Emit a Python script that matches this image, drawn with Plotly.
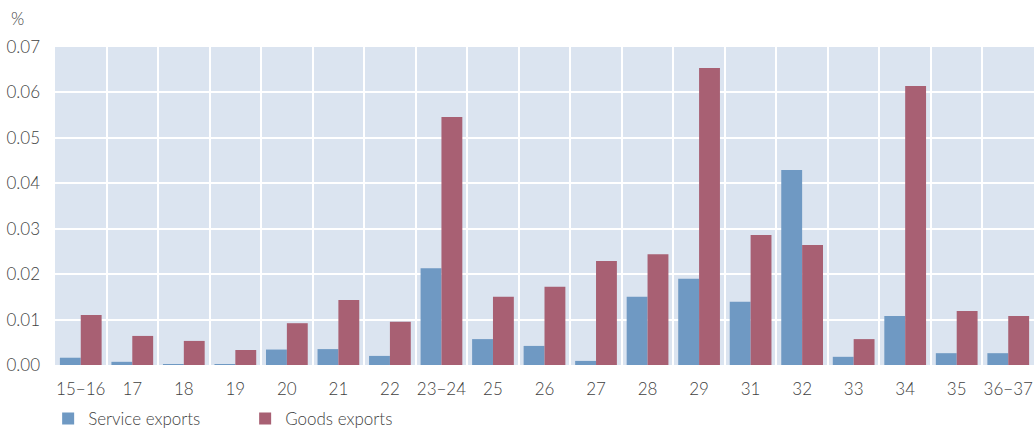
import plotly.graph_objects as go

# Industry groups along the horizontal axis
categories = ["15\u221216", "17", "18", "19", "20", "21", "22", "23\u221224", "25", "26",
              "27", "28", "29", "31", "32", "33", "34", "35", "36\u221237"]

# Share values (%) per industry
service_exports = [0.0016, 0.0007, 0.0002, 0.0002, 0.0034, 0.0035, 0.0020, 0.0213, 0.0057, 0.0042,
                   0.0009, 0.0150, 0.0190, 0.0139, 0.0429, 0.0018, 0.0108, 0.0026, 0.0026]
goods_exports = [0.0110, 0.0064, 0.0053, 0.0033, 0.0092, 0.0143, 0.0095, 0.0546, 0.0150, 0.0172,
                 0.0229, 0.0244, 0.0654, 0.0286, 0.0264, 0.0057, 0.0614, 0.0119, 0.0108]

y_ticks = [0.00, 0.01, 0.02, 0.03, 0.04, 0.05, 0.06, 0.07]

BLUE = "#6f99c3"
RED = "#a86073"
FONT = "Lato"
TEXT = "#3f3f3f"
WEIGHT = 300

fig = go.Figure()
fig.add_trace(go.Bar(x=categories, y=service_exports, name="Service exports",
                     marker=dict(color=BLUE, line=dict(width=0))))
fig.add_trace(go.Bar(x=categories, y=goods_exports, name="Goods exports",
                     marker=dict(color=RED, line=dict(width=0))))

fig.update_layout(
    width=1034, height=430,
    margin=dict(l=55, r=0, t=47, b=65, autoexpand=False),
    paper_bgcolor="white",
    plot_bgcolor="#dbe4f0",
    barmode="group",
    bargap=0.19,
    bargroupgap=0,
    font=dict(family=FONT, size=17, color=TEXT, weight=WEIGHT),
    showlegend=True,
    legend=dict(orientation="h", x=-0.007, xanchor="left", y=-0.113, yanchor="top",
                entrywidth=152, entrywidthmode="pixels",
                font=dict(family=FONT, size=17, color=TEXT, weight=WEIGHT),
                bgcolor="rgba(0,0,0,0)", traceorder="normal"),
    xaxis=dict(type="category", tickson="boundaries", showgrid=True,
               gridcolor="white", gridwidth=2, ticks="", showline=False,
               zeroline=False, ticklabelstandoff=12, tickangle=0, automargin=False,
               range=[-0.5, len(categories) - 0.5],
               tickfont=dict(family=FONT, size=17, color=TEXT, weight=WEIGHT)),
    yaxis=dict(range=[0, 0.07], tickvals=y_ticks, tickformat=".2f",
               showgrid=True, gridcolor="white", gridwidth=2, zeroline=False,
               ticks="", showline=False, ticklabelstandoff=14, automargin=False,
               tickfont=dict(family=FONT, size=17, color=TEXT, weight=WEIGHT)),
    annotations=[dict(text="%", xref="paper", yref="paper", x=0, y=1,
                      xanchor="left", yanchor="middle", xshift=-46, yshift=29,
                      showarrow=False,
                      font=dict(family=FONT, size=17, color=TEXT, weight=WEIGHT))],
)

fig.write_html("out.html")
